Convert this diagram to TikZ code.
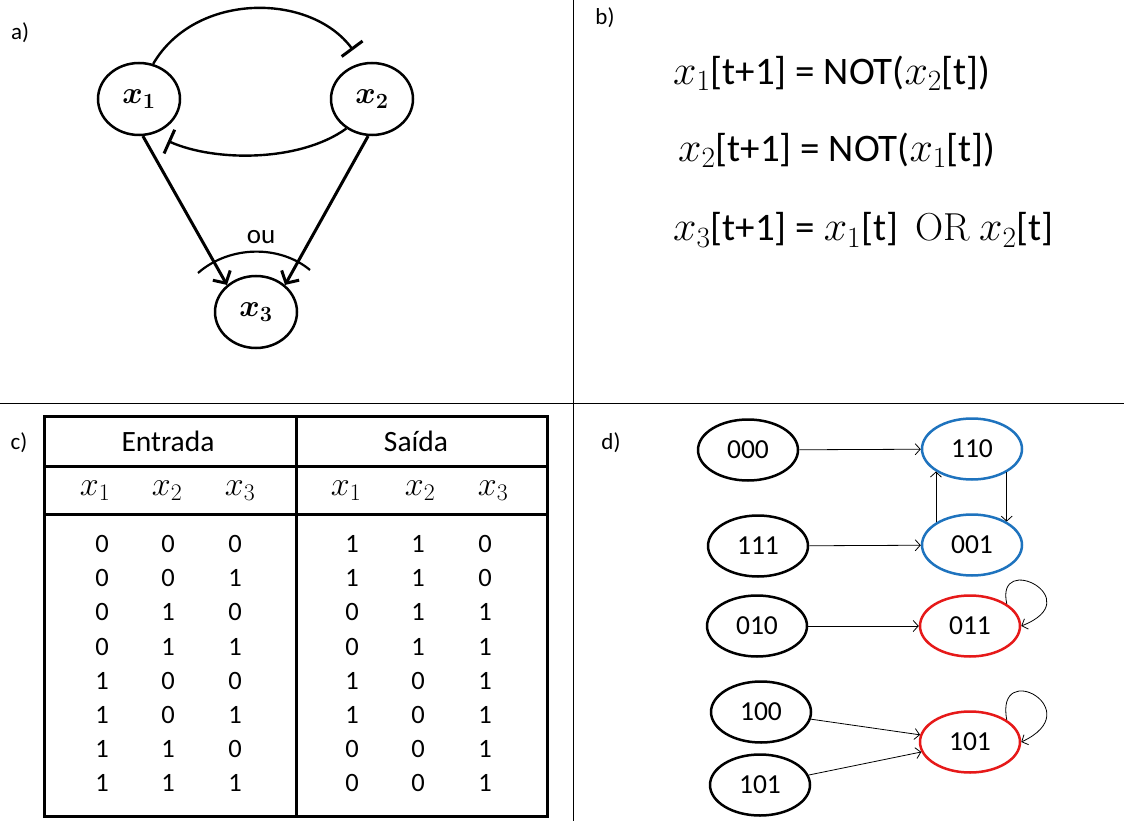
\RequirePackage{fix-cm}
\documentclass[tikz,border=0pt]{standalone}
\usepackage{amsmath}
\usepackage{fontspec}
\newfontfamily\carl{Carlito}
\newcommand\mx[1]{{\fontsize{42}{48}\selectfont$#1$}}
\usetikzlibrary{arrows.meta,shapes.geometric}
\definecolor{stblue}{RGB}{30,115,190}
\definecolor{stred}{RGB}{230,25,25}
\begin{document}
\begin{tikzpicture}[x=1pt,y=-1pt,
  anode/.style={ellipse,draw,line width=2.5pt,minimum width=82pt,minimum height=72pt,inner sep=0pt,font=\fontsize{31}{36}\selectfont},
  inh/.style={line width=2.4pt,-{Bar[width=26pt,line width=3pt]}},
  act/.style={line width=3pt,-{Straight Barb[length=9pt,width=20pt,line width=3pt]}},
  eq/.style={anchor=west,inner sep=0pt,font=\carl\fontsize{39}{46}\selectfont},
  plabel/.style={font=\carl\fontsize{23}{28}\selectfont,inner sep=0pt},
  hdr/.style={font=\carl\fontsize{29.5}{34}\selectfont,inner sep=0pt},
  var/.style={font=\fontsize{34}{40}\selectfont,inner sep=0pt},
  cell/.style={font=\carl\fontsize{26.5}{31}\selectfont,inner sep=0pt},
  tbl/.style={line width=3pt},
  dnode/.style={ellipse,draw,line width=2.5pt,minimum width=100pt,minimum height=61pt,inner sep=0pt,font=\carl\fontsize{27.5}{32}\selectfont},
  dedge/.style={line width=0.8pt,-{Straight Barb[length=5pt,width=11pt]}}
]
\useasboundingbox (0,0) rectangle (1124,821);
\fill[white] (0,0) rectangle (1124,821);
% panel dividers
\draw[line width=1pt] (573,0) -- (573,821);
\draw[line width=1pt] (0,403) -- (1124,403);

% ---------- panel a
\node[plabel] (la) at (20,33) {a)};
\node[anode] (x1) at (139,99) {$\boldsymbol{x_1}$};
\node[anode] (x2) at (372,99) {$\boldsymbol{x_2}$};
\node[anode] (x3) at (256,312) {$\boldsymbol{x_3}$};
\coordinate (t12) at (353,50);
\coordinate (t21) at (168,141);
\draw[inh] (x1.68) .. controls (195,-8) and (310,-8) .. (t12);
\draw[inh] (x2.229) .. controls (300,162) and (215,162) .. (t21);
\draw[act] (x1.276) -- (x3.137);
\draw[act] (x2.264) -- (x3.43);
\draw[line width=2.2pt] (198,273) .. controls (230,245) and (280,245) .. (310,270);
\node[font=\carl\fontsize{27}{32}\selectfont,inner sep=0pt] (ou) at (261,237) {ou};

% ---------- panel b
\node[plabel] (lb) at (605,18) {b)};
\node[eq] (e1) at (673,73) {\mx{x_1}[t+1] = NOT(\mx{x_2}[t])};
\node[eq] (e2) at (678,150) {\mx{x_2}[t+1] = NOT(\mx{x_1}[t])};
\node[eq] (e3) at (673,230) {\mx{x_3}[t+1] = \mx{x_1}[t]\ \ {\rmfamily OR} \mx{x_2}[t]};

% ---------- panel c
\node[plabel] (lc) at (19,443) {c)};
\draw[tbl] (44,416) rectangle (547,816);
\draw[tbl] (44,466) -- (547,466);
\draw[tbl] (44,514) -- (547,514);
\draw[tbl] (296,416) -- (296,816);
\node[hdr] (hin) at (168,441) {Entrada};
\node[hdr] (hout) at (416,441) {Saída};
\node[var] (v1) at (95,491) {$x_1$};
\node[var] (v2) at (167,491) {$x_2$};
\node[var] (v3) at (240,491) {$x_3$};
\node[var] (w1) at (346,491) {$x_1$};
\node[var] (w2) at (420,491) {$x_2$};
\node[var] (w3) at (493,491) {$x_3$};
\foreach \a/\b/\c/\d/\e/\f [count=\i] in {0/0/0/1/1/0,0/0/1/1/1/0,0/1/0/0/1/1,0/1/1/0/1/1,1/0/0/1/0/1,1/0/1/1/0/1,1/1/0/0/0/1,1/1/1/0/0/1}{
  \node[cell] (r\i a) at (102,{544+34.2*(\i-1)}) {\a};
  \node[cell] (r\i b) at (168,{544+34.2*(\i-1)}) {\b};
  \node[cell] (r\i c) at (235,{544+34.2*(\i-1)}) {\c};
  \node[cell] (r\i d) at (352,{544+34.2*(\i-1)}) {\d};
  \node[cell] (r\i e) at (418,{544+34.2*(\i-1)}) {\e};
  \node[cell] (r\i f) at (485,{544+34.2*(\i-1)}) {\f};
}

% ---------- panel d
\node[plabel] (ld) at (611,443) {d)};
\node[dnode] (n000) at (748,450) {000};
\node[dnode,draw=stblue] (n110) at (972,449) {110};
\node[dnode] (n111) at (758,546) {111};
\node[dnode,draw=stblue] (n001) at (972,545) {001};
\node[dnode] (n010) at (757,626) {010};
\node[dnode,draw=stred] (n011) at (970,626) {011};
\node[dnode] (n100) at (761,712) {100};
\node[dnode,draw=stred] (n101r) at (970,742) {101};
\node[dnode] (n101l) at (760,785) {101};
\draw[dedge] (n000) -- (n110);
\draw[dedge] (n111) -- (n001);
\draw[dedge] (n010) -- (n011);
\draw[dedge] (n100) -- (n101r);
\draw[dedge] (n101l) -- (n101r);
\draw[dedge] (n001.148) -- (n110.212);
\draw[dedge] (n110.-34) -- (n001.34);
\draw[dedge] (n011.31) .. controls +(-12,-53) and +(69,-27) .. (n011.east);
\draw[dedge] (n101r.31) .. controls +(-12,-62) and +(69,-32) .. (n101r.east);
\end{tikzpicture}
\end{document}
